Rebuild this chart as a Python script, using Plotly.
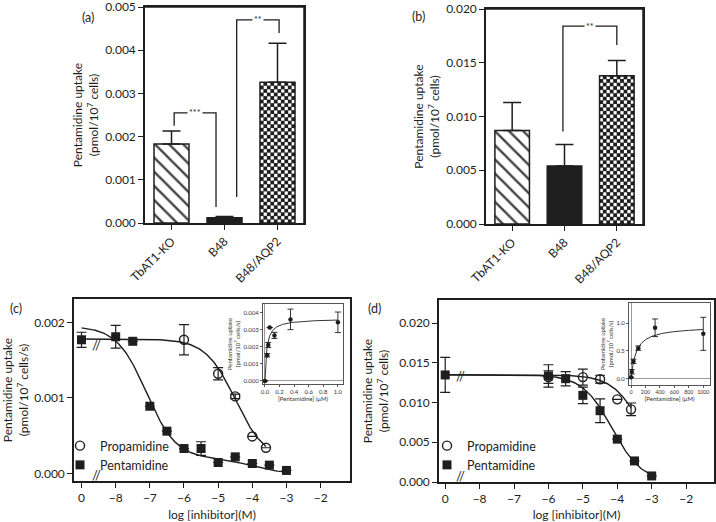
import numpy as np
import plotly.graph_objects as go

FONT = "Lato"
INK = "#1e1e1e"

# ---------------- panels (a) and (b): bar charts ----------------
strains = ["TbAT1-KO", "B48", "B48/AQP2"]
uptake_a = [0.00183, 0.00012, 0.00326]
sem_a = [0.00030, 0.00003, 0.00090]
uptake_b = [0.0087, 0.0054, 0.0138]
sem_b = [0.0026, 0.0020, 0.0014]
yticks_a = [0.000, 0.001, 0.002, 0.003, 0.004, 0.005]
yticks_b = [0.000, 0.005, 0.010, 0.015, 0.020]

# significance brackets: left x, right x, bracket level, left leg end, right leg end, label
brackets_a = [
    [0.05, 0.84, 0.00255, 0.00225, 0.00037, "***"],
    [1.23, 2.03, 0.00470, 0.00060, 0.00440, "**"],
]
brackets_b = [
    [0.97, 2.00, 0.0184, 0.0086, 0.01665, "**"],
]

# ---------------- panels (c) and (d): inhibition curves ----------------
x_tick_pos = [-9, -8, -7, -6, -5, -4, -3, -2]
x_tick_text = ["0", "\u22128", "\u22127", "\u22126", "\u22125", "\u22124", "\u22123", "\u22122"]

logc_pent_c = [-9, -8, -7.5, -7, -6.5, -6, -5.5, -5, -4.5, -4, -3.5, -3]
pent_c = [0.00177, 0.00181, 0.00175, 0.00089, 0.00056, 0.00033, 0.00033,
          0.000145, 0.00022, 0.000132, 0.00011, 0.00004]
pent_c_err = [0.0001, 0.00015, 0, 0, 0, 0, 0.00009, 0, 0, 0, 0, 0]
logc_prop_c = [-6, -5, -4.5, -4, -3.6]
prop_c = [0.00177, 0.00132, 0.00102, 0.00049, 0.00034]
prop_c_err = [0.0002, 0.00008, 0.00003, 0, 0]

logc_pent_d = [-9, -6, -5.5, -5, -4.5, -4, -3.5, -3]
pent_d = [0.01347, 0.01335, 0.0130, 0.0109, 0.00897, 0.00539, 0.00265, 0.00076]
pent_d_err = [0.0022, 0.0014, 0.0009, 0.00105, 0.0015, 0, 0, 0]
logc_prop_d = [-6, -5, -4.5, -4, -3.6]
prop_d = [0.0132, 0.0132, 0.01293, 0.0104, 0.00914]
prop_d_err = [0.0008, 0.001, 0.0005, 0, 0.0008]

# fitted curve parameters (top, bottom, logIC50, Hill slope)
fit_prop_c = [0.00178, 0.00018, -4.5, 1.0]
fit_pent_c_two_site = [0.00195, 0.0, 0.9, -7.1, -4.0]  # top, bottom, fraction, logIC1, logIC2
fit_pent_d = [0.0135, 0.0, -4.15, 1.0]
fit_prop_d = [0.0135, 0.0, -3.25, 1.0]

# ---------------- insets: saturation curves ----------------
conc_c = [0, 0.03, 0.045, 0.065, 0.13, 0.35, 1.0]
rate_c = [0, 0.0015, 0.0021, 0.00312, 0.00266, 0.0036, 0.00343]
rate_c_err = [0, 0.0001, 0.00015, 0, 0.00018, 0.0006, 0.0006]
mm_c = [0.00365, 0.025]  # Vmax, Km

conc_d = [0, 10, 33, 100, 333, 1000]
rate_d = [0.02, 0.12, 0.31, 0.55, 0.92, 0.81]
rate_d_err = [0, 0.04, 0.04, 0.04, 0.16, 0.3]
mm_d = [0.95, 70]


def hill(x, top, bottom, logic, slope):
    return bottom + (top - bottom) / (1 + 10 ** (slope * (x - logic)))


def two_site(x, top, bottom, frac, l1, l2):
    return bottom + (top - bottom) * (frac / (1 + 10 ** (x - l1)) + (1 - frac) / (1 + 10 ** (x - l2)))


def mm(s, vmax, km):
    return vmax * s / (km + s)


W, H = 716, 522

# panel boxes in pixels: left, right, top, bottom
box_a = (145, 304, 7, 223)
box_b = (486, 643, 9, 224)
box_c = (74, 350, 299, 481)
box_d = (439, 714, 300, 482)
box_ic = (263, 343, 304, 384)
box_id = (629, 710, 303, 385)

BAR_W = 0.66
XR_BAR = [-0.5, 2.5]
YR_A = [0, 0.005]
YR_B = [0, 0.020]


def dx(box):
    return [box[0] / W, box[1] / W]


def dy(box):
    return [1 - box[3] / H, 1 - box[2] / H]


fig = go.Figure()
tickfont = dict(family=FONT, size=12, color=INK)

# ---- bars
for xa, ya, vals, errs in [("x", "y", uptake_a, sem_a), ("x2", "y2", uptake_b, sem_b)]:
    fig.add_trace(go.Bar(
        x=[0, 1, 2], y=vals, width=BAR_W, xaxis=xa, yaxis=ya,
        marker=dict(color=["white", INK, "white"],
                    line=dict(color=INK, width=1.5),
                    pattern=dict(shape=["\\", "", ""], fgcolor=INK, fgopacity=1,
                                 bgcolor=["white", INK, "white"],
                                 size=10, solidity=0.24)),
        error_y=dict(type="data", symmetric=False, array=errs, arrayminus=[0, 0, 0],
                     color=INK, thickness=1.5, width=9),
        showlegend=False))

# ---- checkerboard texture inside the B48/AQP2 bars
CHECK_PX = 3.5
for xa, ya, vals, box, yr in [("x", "y", uptake_a, box_a, YR_A), ("x2", "y2", uptake_b, box_b, YR_B)]:
    px_per_x = (box[1] - box[0]) / (XR_BAR[1] - XR_BAR[0])
    px_per_y = (box[3] - box[2]) / (yr[1] - yr[0])
    xc = 2
    ncols = int(round(BAR_W * px_per_x / CHECK_PX))
    nrows = int(round(vals[xc] * px_per_y / CHECK_PX))
    xe = np.linspace(xc - BAR_W / 2, xc + BAR_W / 2, ncols + 1)
    ye = np.linspace(0, vals[xc], nrows + 1)
    xm = (xe[:-1] + xe[1:]) / 2
    ym = (ye[:-1] + ye[1:]) / 2
    ii, jj = np.indices((nrows, ncols))
    sel = ((ii + jj) % 2) == 0
    fig.add_trace(go.Scatter(x=xm[jj[sel]], y=ym[ii[sel]], mode="markers",
                             marker=dict(symbol="square", size=CHECK_PX + 0.3, color=INK,
                                         line=dict(width=0)),
                             xaxis=xa, yaxis=ya, showlegend=False, hoverinfo="skip"))

# ---- frame (top and right edges) of the bar panels, drawn along the axis ranges
for xa, ya, yr in [("x", "y", YR_A), ("x2", "y2", YR_B)]:
    fig.add_trace(go.Scatter(x=[XR_BAR[0], XR_BAR[1], XR_BAR[1]], y=[yr[1], yr[1], yr[0]],
                             mode="lines", line=dict(color=INK, width=1.5), cliponaxis=False,
                             xaxis=xa, yaxis=ya, showlegend=False, hoverinfo="skip"))

annotations = []
for xa, ya, brs in [("x", "y", brackets_a), ("x2", "y2", brackets_b)]:
    for xl, xr, yb, yle, yre, lab in brs:
        fig.add_trace(go.Scatter(x=[xl, xl, xr, xr], y=[yle, yb, yb, yre], mode="lines",
                                 line=dict(color=INK, width=1.3), xaxis=xa, yaxis=ya,
                                 showlegend=False, hoverinfo="skip"))
        annotations.append(dict(x=(xl + xr) / 2, y=yb, xref=xa, yref=ya, text=lab,
                                showarrow=False, bgcolor="white", borderpad=1,
                                font=dict(family=FONT, size=9, color=INK)))

# ---- inhibition curves
LW = 1.4
xs_c = np.linspace(-9, -3, 300)
xs_cp = np.linspace(-9, -3.6, 300)
fig.add_trace(go.Scatter(x=xs_c, y=two_site(xs_c, *fit_pent_c_two_site), mode="lines",
                         line=dict(color=INK, width=LW), xaxis="x3", yaxis="y3",
                         showlegend=False, hoverinfo="skip"))
fig.add_trace(go.Scatter(x=xs_cp, y=hill(xs_cp, *fit_prop_c), mode="lines",
                         line=dict(color=INK, width=LW), xaxis="x3", yaxis="y3",
                         showlegend=False, hoverinfo="skip"))
fig.add_trace(go.Scatter(x=logc_prop_c, y=prop_c, mode="markers", name="Propamidine",
                         marker=dict(symbol="circle-open", size=9, color=INK, line=dict(width=1.4)),
                         error_y=dict(type="data", array=prop_c_err, color=INK, thickness=1.2, width=5),
                         xaxis="x3", yaxis="y3", legend="legend"))
fig.add_trace(go.Scatter(x=logc_pent_c, y=pent_c, mode="markers", name="Pentamidine",
                         marker=dict(symbol="square", size=9, color=INK),
                         error_y=dict(type="data", array=pent_c_err, color=INK, thickness=1.2, width=5),
                         xaxis="x3", yaxis="y3", legend="legend"))

xs_d = np.linspace(-9, -3, 300)
xs_dp = np.linspace(-9, -3.6, 300)
fig.add_trace(go.Scatter(x=xs_d, y=hill(xs_d, *fit_pent_d), mode="lines",
                         line=dict(color=INK, width=LW), xaxis="x4", yaxis="y4",
                         showlegend=False, hoverinfo="skip"))
fig.add_trace(go.Scatter(x=xs_dp, y=hill(xs_dp, *fit_prop_d), mode="lines",
                         line=dict(color=INK, width=LW), xaxis="x4", yaxis="y4",
                         showlegend=False, hoverinfo="skip"))
fig.add_trace(go.Scatter(x=logc_prop_d, y=prop_d, mode="markers", name="Propamidine",
                         marker=dict(symbol="circle-open", size=9, color=INK, line=dict(width=1.4)),
                         error_y=dict(type="data", array=prop_d_err, color=INK, thickness=1.2, width=5),
                         xaxis="x4", yaxis="y4", legend="legend2"))
fig.add_trace(go.Scatter(x=logc_pent_d, y=pent_d, mode="markers", name="Pentamidine",
                         marker=dict(symbol="square", size=9, color=INK),
                         error_y=dict(type="data", array=pent_d_err, color=INK, thickness=1.2, width=5),
                         xaxis="x4", yaxis="y4", legend="legend2"))

# ---- insets
sc = np.linspace(0, 1.0, 200)
fig.add_trace(go.Scatter(x=sc, y=mm(sc, *mm_c), mode="lines", line=dict(color=INK, width=0.9),
                         xaxis="x5", yaxis="y5", showlegend=False, hoverinfo="skip"))
fig.add_trace(go.Scatter(x=conc_c, y=rate_c, mode="markers", marker=dict(color=INK, size=4.5),
                         error_y=dict(type="data", array=rate_c_err, color=INK, thickness=0.9, width=3),
                         xaxis="x5", yaxis="y5", showlegend=False))
sd = np.linspace(0, 1000, 200)
fig.add_trace(go.Scatter(x=sd, y=mm(sd, *mm_d), mode="lines", line=dict(color=INK, width=0.9),
                         xaxis="x6", yaxis="y6", showlegend=False, hoverinfo="skip"))
fig.add_trace(go.Scatter(x=conc_d, y=rate_d, mode="markers", marker=dict(color=INK, size=4.5),
                         error_y=dict(type="data", array=rate_d_err, color=INK, thickness=0.9, width=3),
                         xaxis="x6", yaxis="y6", showlegend=False))

# axis styling
base_axis = dict(showline=True, linecolor=INK, linewidth=1.5, ticks="outside", ticklen=5,
                 tickwidth=1.3, tickcolor=INK, showgrid=False, zeroline=False, tickfont=tickfont,
                 automargin=False, mirror=True, ticklabeloverflow="allow")
tfont = dict(family=FONT, size=12, color=INK)
small = dict(family=FONT, size=6, color="#333")
inset_axis = dict(showline=True, linecolor="#555", linewidth=1, mirror=True, ticks="outside",
                  ticklen=2, tickcolor="#555", showgrid=False, zeroline=True, zerolinecolor="#999",
                  zerolinewidth=1, tickfont=small, automargin=False, ticklabeloverflow="allow")
ytitle_uptake = "Pentamidine uptake<br>(pmol/10<sup>7</sup> cells)"
ytitle_rate = "Pentamidine uptake<br>(pmol/10<sup>7</sup> cells/s)"

fig.update_layout(
    width=W, height=H, margin=dict(l=0, r=0, t=0, b=0, pad=0, autoexpand=False),
    paper_bgcolor="white", plot_bgcolor="white",
    font=dict(family=FONT, color=INK),
    xaxis=dict(base_axis, domain=dx(box_a), range=XR_BAR, tickvals=[0, 1, 2],
               ticktext=strains, tickangle=-45, anchor="y"),
    yaxis=dict(base_axis, domain=dy(box_a), range=YR_A, tickvals=yticks_a,
               ticktext=["%.3f" % v for v in yticks_a],
               anchor="x", title=dict(text=ytitle_uptake, font=tfont, standoff=4)),
    xaxis2=dict(base_axis, domain=dx(box_b), range=XR_BAR, tickvals=[0, 1, 2],
                ticktext=strains, tickangle=-45, anchor="y2"),
    yaxis2=dict(base_axis, domain=dy(box_b), range=YR_B, tickvals=yticks_b,
                ticktext=["%.3f" % v for v in yticks_b],
                anchor="x2", title=dict(text=ytitle_uptake, font=tfont, standoff=4)),
    xaxis3=dict(base_axis, domain=dx(box_c), range=[-9.22, -1.14], tickvals=x_tick_pos,
                ticktext=x_tick_text, anchor="y3",
                title=dict(text="log [inhibitor](M)", font=tfont, standoff=7)),
    yaxis3=dict(base_axis, domain=dy(box_c), range=[-0.0001, 0.00231], dtick=0.001,
                tickformat=".3f", anchor="x3",
                title=dict(text=ytitle_rate, font=tfont, standoff=19)),
    xaxis4=dict(base_axis, domain=dx(box_d), range=[-9.18, -1.19], tickvals=x_tick_pos,
                ticktext=x_tick_text, anchor="y4",
                title=dict(text="log [inhibitor](M)", font=tfont, standoff=7)),
    yaxis4=dict(base_axis, domain=dy(box_d), range=[0, 0.0229], dtick=0.005,
                tickformat=".3f", anchor="x4",
                title=dict(text=ytitle_uptake, font=tfont, standoff=8)),
    xaxis5=dict(inset_axis, domain=dx(box_ic), range=[-0.027, 1.07], dtick=0.2,
                tickformat=".1f", anchor="y5",
                title=dict(text="[Pentamidine] (\u03bcM)", font=small, standoff=2)),
    yaxis5=dict(inset_axis, domain=dy(box_ic), range=[-0.00018, 0.0045], dtick=0.001,
                tickformat=".3f", anchor="x5",
                title=dict(text=ytitle_rate, font=small, standoff=2)),
    xaxis6=dict(inset_axis, domain=dx(box_id), range=[-28, 1093], dtick=200, anchor="y6",
                tickfont=dict(family=FONT, size=5.3, color="#333"),
                title=dict(text="[Pentamidine] (\u03bcM)", font=small, standoff=2)),
    yaxis6=dict(inset_axis, domain=dy(box_id), range=[-0.12, 1.37], dtick=0.5,
                tickformat=".1f", anchor="x6",
                title=dict(text=ytitle_rate, font=small, standoff=2)),
    legend=dict(x=60 / W, y=1 - 431 / H, xanchor="left", yanchor="top", bgcolor="rgba(0,0,0,0)",
                font=dict(family=FONT, size=12.5, color=INK), tracegroupgap=0, itemwidth=30),
    legend2=dict(x=427 / W, y=1 - 431 / H, xanchor="left", yanchor="top", bgcolor="rgba(0,0,0,0)",
                 font=dict(family=FONT, size=12.5, color=INK), tracegroupgap=0, itemwidth=30),
)

# panel letters
for txt, px, py in [("(a)", 80, 8), ("(b)", 418, 7), ("(c)", 8, 308), ("(d)", 374, 308)]:
    annotations.append(dict(x=px / W, y=1 - py / H, xref="paper", yref="paper", text=txt,
                            showarrow=False, font=dict(family=FONT, size=12.5, color=INK)))

# axis-break marks
for xa, ya, yline in [("x3", "y3", 0.00170), ("x4", "y4", 0.0134)]:
    annotations.append(dict(x=-8.55, y=yline, xref=xa, yref=ya, text="//", showarrow=False,
                            font=dict(family=FONT, size=13, color=INK)))
for xa, py in [("x3", 485), ("x4", 486)]:
    annotations.append(dict(x=-8.55, y=1 - py / H, xref=xa, yref="paper", text="//", showarrow=False,
                            font=dict(family=FONT, size=13, color=INK)))

fig.update_layout(annotations=annotations)
fig.write_html("out.html", config={"displayModeBar": False},
               post_script="document.body.style.margin='0px';document.body.style.overflow='hidden';")
